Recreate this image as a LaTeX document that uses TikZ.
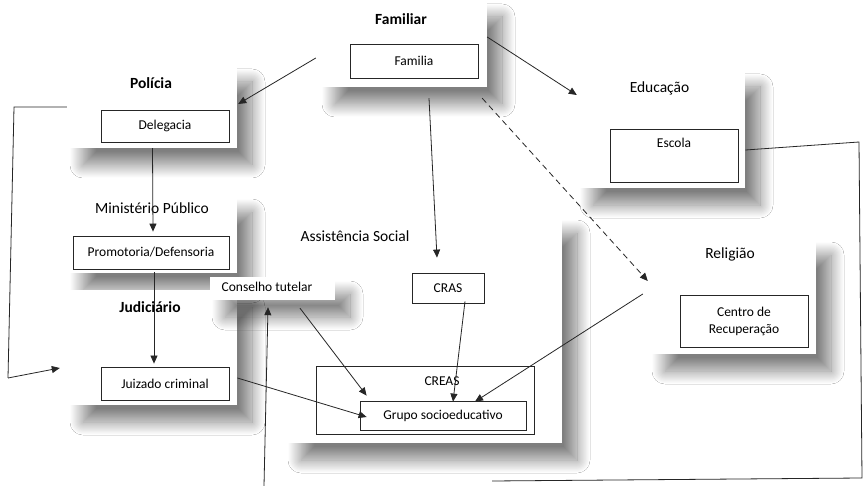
\documentclass[tikz,border=0pt]{standalone}
\usepackage{fontspec}
\setmainfont{Carlito}
\usetikzlibrary{shadows.blur,calc,arrows.meta}
\begin{document}
\begin{tikzpicture}[x=1pt,y=-1pt,
  panel/.style={fill=white,draw=none,inner sep=0pt,
    blur shadow={shadow xshift=15pt,shadow yshift=-17pt,shadow blur radius=13pt,shadow blur steps=28,shadow opacity=50}},
  ttl/.style={font=\fontsize{15.5}{18}\selectfont,inner sep=0pt,text=black},
  ttlb/.style={ttl,font=\fontsize{15.5}{18}\selectfont\bfseries},
  box/.style={draw=black!85,line width=0.8pt,fill=white,inner sep=0pt,font=\fontsize{13.5}{16}\selectfont,text=black},
  conn/.style={draw=black!85,line width=0.8pt},
  arr/.style={conn,-{Triangle[length=8pt,width=7pt]}}]
\fill[white] (0,0) rectangle (863,486);
\useasboundingbox (0,0) rectangle (863,486);

% panels
\node[panel,minimum width=167pt,minimum height=87pt] (pfam) at (403.5,43.5) {};
\node[panel,minimum width=169pt,minimum height=83pt] (ppol) at (152.5,106.5) {};
\node[panel,minimum width=169pt,minimum height=78pt] (pmin) at (152.5,234) {};
\node[panel,minimum width=169pt,minimum height=115pt] (pjud) at (152.5,347.5) {};
\node[panel,minimum width=167pt,minimum height=118pt] (pedu) at (661.5,129) {};
\node[panel,minimum width=276pt,minimum height=227pt] (pass) at (424,329.5) {};
\node[panel,minimum width=125pt,minimum height=23pt] (pcon) at (272.5,288.5) {};
\node[panel,minimum width=166pt,minimum height=116pt] (prel) at (733,296) {};

% titles
\node[ttlb] (tfam) at (401,19) {Familiar};
\node[ttlb] (tpol) at (151,83) {Polícia};
\node[ttl] (tmin) at (152,208) {Ministério Público};
\node[ttlb] (tjud) at (150,307) {Judiciário};
\node[ttl] (tass) at (355,236) {Assistência Social};
\node[ttl] (tedu) at (659.5,88) {Educação};
\node[ttl] (trel) at (730,254) {Religião};
\node[font=\fontsize{13.5}{16}\selectfont,text=black,inner sep=0pt] (tcon) at (267,287) {Conselho tutelar};

% boxes
\node[box,minimum width=128pt,minimum height=34pt] (bfam) at (414,61) {Familia};
\node[box,minimum width=128pt,minimum height=32pt] (bdel) at (165,126) {Delegacia};
\node[box,minimum width=156pt,minimum height=33pt] (bpro) at (151,252.5) {Promotoria/Defensoria};
\node[box,minimum width=128pt,minimum height=33pt] (bjuz) at (165,383.5) {Juizado criminal};
\node[box,minimum width=72pt,minimum height=30pt] (bcras) at (448,288) {CRAS};
\node[box,minimum width=218pt,minimum height=68pt] (bcreas) at (425,400) {};
\node[font=\fontsize{13.5}{16}\selectfont,text=black,inner sep=0pt] (tcreas) at (442,381) {CREAS};
\node[box,minimum width=166pt,minimum height=29pt] (bgru) at (443,415.5) {Grupo socioeducativo};
\node[box,minimum width=128pt,minimum height=53pt] (besc) at (674,155.5) {};
\node[font=\fontsize{13.5}{16}\selectfont,text=black,inner sep=0pt] (tesc) at (674,143) {Escola};
\node[box,minimum width=128pt,minimum height=52pt,align=center,
  font=\fontsize{13.5}{17}\selectfont] (bcen) at (744,321) {Centro de\\Recuperação};

% free-end coordinates
\coordinate (cbot) at (264,486);
\coordinate (ce1) at (859,142);
\coordinate (ce2) at (862,478);
\coordinate (ce3) at (492,481);
\coordinate (cl1) at (14,107);
\coordinate (cl2) at (8,378);

% connectors
\draw[arr] ($(pfam.west)+(-4,14.5)$) -- ($(ppol.east)+(1,-2.5)$);
\draw[arr] ($(pfam.east)+(0,-6.5)$) -- ($(pedu.west)+(-1,-34)$);
\draw[arr] ($(pfam.south)+(25.5,11)$) -- ($(bcras.north)+(-11,-15)$);
\draw[arr,dash pattern=on 6pt off 4pt] ($(pfam.south east)+(-5,11)$) -- ($(prel.west)+(-2,-15)$);
\draw[arr] (ppol.south) -- ($(bpro.north)+(2,-4)$);
\draw[arr] ($(bpro.south)+(3,3)$) -- ($(bjuz.north)+(-11,-3)$);
\draw[arr] ($(bjuz.east)+(8,-5.5)$) -- ($(bgru.west)+(7,1.5)$);
\draw[arr] ($(pcon.south)+(27.5,8)$) -- ($(bgru.north west)+(7,-5)$);
\draw[arr] ($(bcras.south)+(17,-2)$) -- ($(bgru.north)+(10,1)$);
\draw[arr] ($(prel.west)+(-7,-2)$) -- ($(bgru.north)+(32,1)$);
\draw[arr] (cbot) -- ($(pcon.south)+(-4.5,7)$);
\draw[conn] ($(besc.east)+(7,-5.5)$) -- (ce1) -- (ce2) -- (ce3);
\draw[conn] ($(ppol.west)+(-1,0.5)$) -- (cl1) -- (cl2);
\draw[arr] (cl2) -- ($(pjud.west)+(-8,20.5)$);
\end{tikzpicture}
\end{document}
